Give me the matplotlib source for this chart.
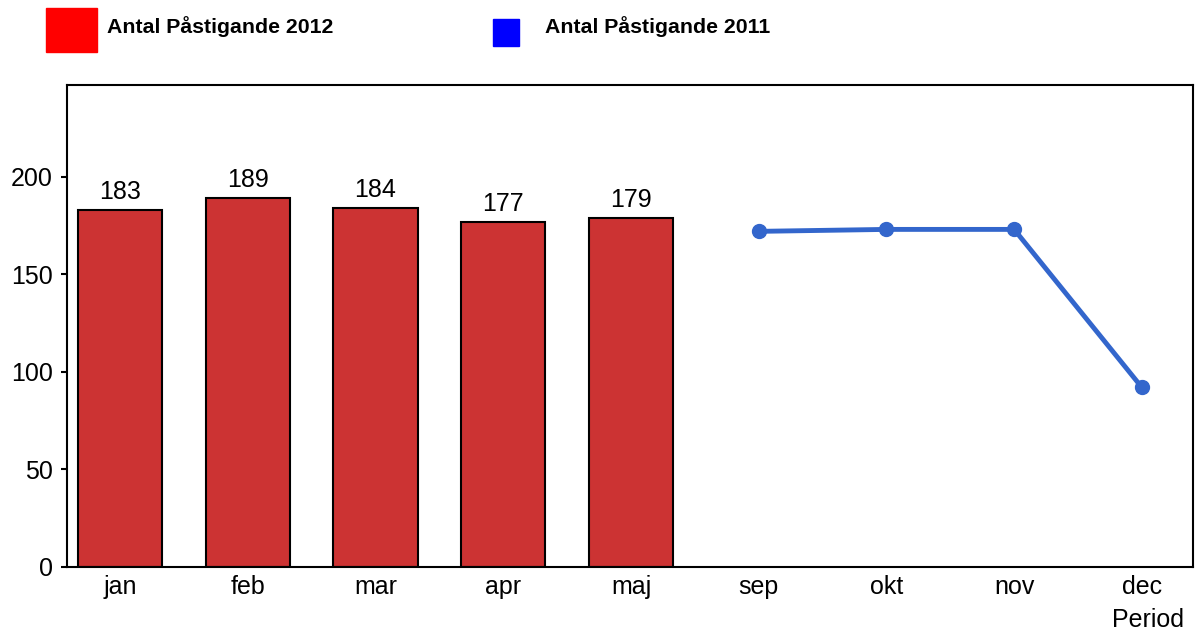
import matplotlib
matplotlib.use("Agg")
import matplotlib.pyplot as plt
from matplotlib.patches import Rectangle

plt.rcParams['font.family'] = ['Liberation Sans', 'DejaVu Sans']

categories = ["jan", "feb", "mar", "apr", "maj", "sep", "okt", "nov", "dec"]
bar_cats = ["jan", "feb", "mar", "apr", "maj"]
bar_values = [183, 189, 184, 177, 179]
line_cats = ["sep", "okt", "nov", "dec"]
line_values = [172, 173, 173, 92]
yticks = [0, 50, 100, 150, 200]

fig = plt.figure(figsize=(11.99, 6.34), dpi=100)
ax = fig.add_axes([67/1199, 1-567/634, (1193-67)/1199, (567-85)/634])

pos = {c: i for i, c in enumerate(categories)}
bx = [pos[c] for c in bar_cats]
lx = [pos[c] for c in line_cats]

ax.bar(bx, bar_values, width=0.66, color="#CC3333", edgecolor="black", linewidth=1.5, zorder=2)
for x, v in zip(bx, bar_values):
    ax.text(x, v + 3, str(v), ha="center", va="bottom", fontsize=18)

ax.plot(lx, line_values, color="#3366CC", linewidth=3.5, marker="o", markersize=10, zorder=3)

ax.set_xlim(-0.415, 8.4)
ax.set_ylim(0, 247)
ax.set_xticks(range(len(categories)))
ax.set_xticklabels(categories, fontsize=18)
ax.set_yticks(yticks)
ax.set_yticklabels([str(t) for t in yticks], fontsize=18)
ax.tick_params(axis="x", length=0, pad=6)
ax.tick_params(axis="y", length=4, width=1.5, pad=6)
for s in ax.spines.values():
    s.set_linewidth(1.5)
    s.set_color("black")

ax.text(8.05, -0.085, "Period", transform=ax.get_xaxis_transform(), ha="center", va="top", fontsize=18)

# Legend
fig.patches.append(Rectangle((46/1199, 1-52/634), 51/1199, 44/634, transform=fig.transFigure, color="#FF0000"))
fig.text(107/1199, 1-27/634, "Antal Påstigande 2012", fontsize=15.3, fontweight="bold", va="center", ha="left")
fig.patches.append(Rectangle((493/1199, 1-46/634), 26/1199, 27/634, transform=fig.transFigure, color="#0000FF"))
fig.text(545/1199, 1-27/634, "Antal Påstigande 2011", fontsize=15.3, fontweight="bold", va="center", ha="left")

fig.savefig("out.png", dpi=100)
